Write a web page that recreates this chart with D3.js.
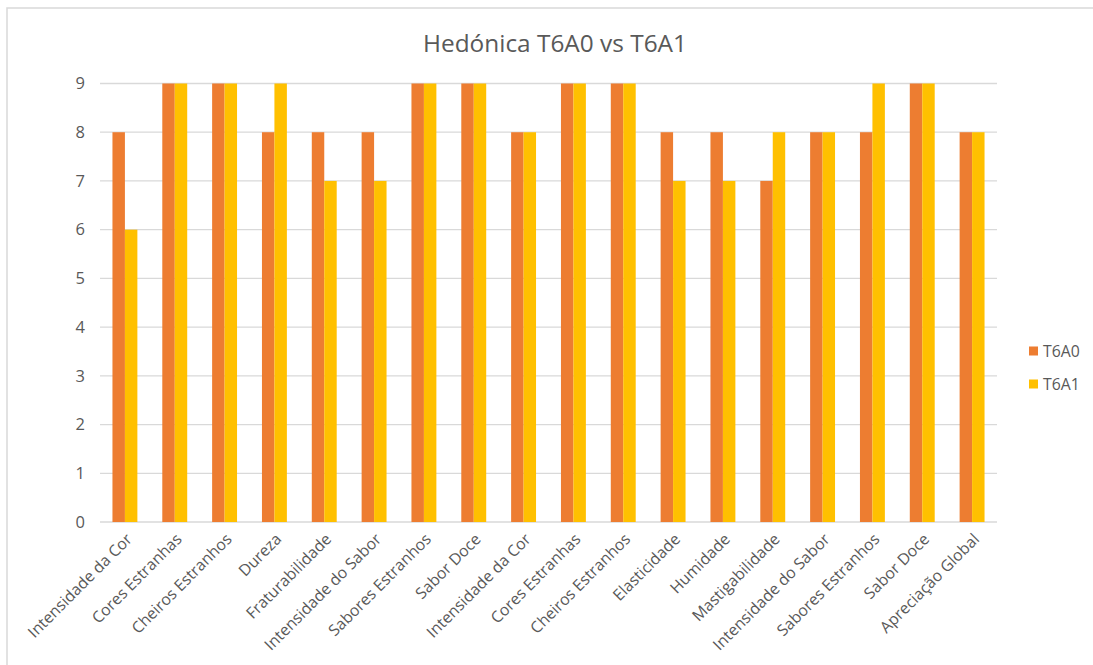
<!DOCTYPE html>
<html>
<head>
<meta charset="utf-8">
<script src="https://cdn.jsdelivr.net/npm/d3@7"></script>
<style>
  html, body { margin: 0; padding: 0; background: #fff; }
  svg { display: block; font-family: "Open Sans", "Liberation Sans", sans-serif; }
</style>
</head>
<body>
<svg id="chart" width="1093" height="665"></svg>
<script>
// Sensory attributes (the two tasting rounds repeat some names)
const categories = [
  "Intensidade da Cor", "Cores Estranhas", "Cheiros Estranhos", "Dureza",
  "Fraturabilidade", "Intensidade do Sabor", "Sabores Estranhos", "Sabor Doce",
  "Intensidade da Cor", "Cores Estranhas", "Cheiros Estranhos", "Elasticidade",
  "Humidade", "Mastigabilidade", "Intensidade do Sabor", "Sabores Estranhos",
  "Sabor Doce", "Apreciação Global"
];
const seriesNames = ["T6A0", "T6A1"];
const t6a0 = [8, 9, 9, 8, 8, 8, 9, 9, 8, 9, 9, 8, 8, 7, 8, 8, 9, 8];
const t6a1 = [6, 9, 9, 9, 7, 7, 9, 9, 8, 9, 9, 7, 7, 8, 8, 9, 9, 8];
const yTicks = [0, 1, 2, 3, 4, 5, 6, 7, 8, 9];
const colors = ["#ED7D31", "#FFC000"];

const svg = d3.select("#chart");
const W = 1093, H = 665;
const plot = { left: 100, right: 997, top: 83.5, bottom: 522 };

// Chart frame (runs past the right and bottom edges)
svg.append("rect")
  .attr("x", 7).attr("y", 8).attr("width", W + 20).attr("height", H + 20)
  .attr("fill", "#fff").attr("stroke", "#d9d9d9").attr("stroke-width", 1.5);

svg.append("text")
  .attr("x", 555).attr("y", 52)
  .attr("text-anchor", "middle")
  .attr("font-size", 24.4)
  .attr("fill", "#595959")
  .text("Hedónica T6A0 vs T6A1");

const idx = d3.range(categories.length);
const x = d3.scaleBand().domain(idx).range([plot.left, plot.right]).paddingInner(0.5).paddingOuter(0.25);
const xs = d3.scaleBand().domain([0, 1]).range([0, x.bandwidth()]);
const y = d3.scaleLinear().domain([0, 9]).range([plot.bottom, plot.top]);

// Horizontal gridlines
svg.append("g").selectAll("line").data(yTicks).join("line")
  .attr("x1", plot.left).attr("x2", plot.right)
  .attr("y1", d => y(d)).attr("y2", d => y(d))
  .attr("stroke", "#d9d9d9").attr("stroke-width", 1.3);

// Y axis labels
const yAxis = d3.axisLeft(y).tickValues(yTicks).tickSize(0).tickPadding(0);
const gy = svg.append("g").attr("transform", `translate(${plot.left - 15},0)`).call(yAxis);
gy.select(".domain").remove();
gy.selectAll("text")
  .attr("font-size", 16.5).attr("fill", "#595959")
  .attr("font-family", "'Open Sans', 'Liberation Sans', sans-serif");

// Bars
const series = [t6a0, t6a1];
series.forEach((vals, s) => {
  svg.append("g").selectAll("rect").data(vals).join("rect")
    .attr("x", (d, i) => x(i) + xs(s))
    .attr("width", xs.bandwidth())
    .attr("y", d => y(d))
    .attr("height", d => y(0) - y(d))
    .attr("fill", colors[s]);
});

// Category labels, rotated
const xAxis = d3.axisBottom(x).tickSize(0).tickFormat(i => categories[i]);
const gx = svg.append("g").attr("transform", `translate(0,${plot.bottom})`).call(xAxis);
gx.select(".domain").remove();
gx.selectAll("text")
  .attr("font-size", 15.8).attr("fill", "#595959")
  .attr("font-family", "'Open Sans', 'Liberation Sans', sans-serif")
  .attr("text-anchor", "end")
  .attr("dy", null)
  .attr("transform", "translate(6,16) rotate(-45)");

// Legend
const legend = svg.append("g");
seriesNames.forEach((name, s) => {
  const ly = 351 + s * 33;
  legend.append("rect").attr("x", 1029).attr("y", ly - 4.5).attr("width", 9).attr("height", 9).attr("fill", colors[s]);
  legend.append("text").attr("x", 1043).attr("y", ly).attr("dy", "0.35em")
    .attr("font-size", 15.8).attr("fill", "#595959").text(name);
});
</script>
</body>
</html>
